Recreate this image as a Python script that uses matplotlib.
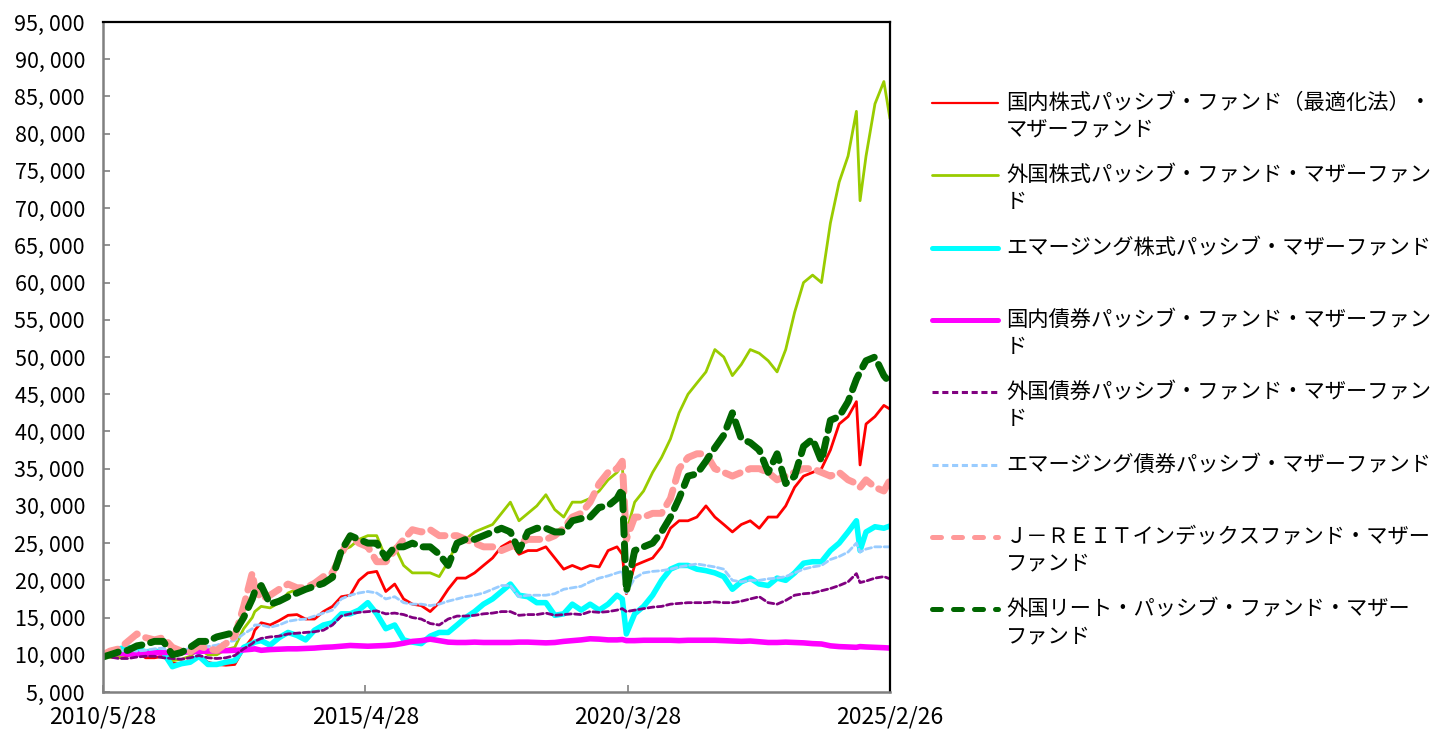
import matplotlib
matplotlib.use("Agg")
import matplotlib.pyplot as plt
from matplotlib.lines import Line2D
import pandas as pd

plt.rcParams['font.family'] = ['Noto Sans CJK JP', 'DejaVu Sans']

# ---------------- data ----------------
dates = [
    "2010-05-28", "2010-07-15", "2010-09-15", "2010-11-15",
    "2011-01-15", "2011-03-15", "2011-05-15", "2011-07-15", "2011-09-15", "2011-11-15",
    "2012-01-15", "2012-03-15", "2012-05-15", "2012-07-15", "2012-09-15", "2012-11-15",
    "2013-01-15", "2013-03-15", "2013-04-01", "2013-05-15", "2013-07-15", "2013-09-15", "2013-11-15",
    "2014-01-15", "2014-03-15", "2014-05-15", "2014-07-15", "2014-09-15", "2014-11-15",
    "2015-01-15", "2015-03-15", "2015-05-15", "2015-07-15", "2015-09-15", "2015-11-15",
    "2016-01-15", "2016-03-15", "2016-05-15", "2016-07-15", "2016-09-15", "2016-11-15",
    "2017-01-15", "2017-03-15", "2017-05-15", "2017-07-15", "2017-09-15", "2017-11-15",
    "2018-01-15", "2018-03-15", "2018-05-15", "2018-07-15", "2018-09-15", "2018-11-15",
    "2019-01-15", "2019-03-15", "2019-05-15", "2019-07-15", "2019-09-15", "2019-11-15",
    "2020-01-15", "2020-02-20", "2020-03-19", "2020-05-15", "2020-07-15", "2020-09-15", "2020-11-15",
    "2021-01-15", "2021-03-15", "2021-05-15", "2021-07-15", "2021-09-15", "2021-11-15",
    "2022-01-15", "2022-03-15", "2022-05-15", "2022-07-15", "2022-09-15", "2022-11-15",
    "2023-01-15", "2023-03-15", "2023-05-15", "2023-07-15", "2023-09-15", "2023-11-15",
    "2024-01-15", "2024-03-15", "2024-05-15", "2024-07-11", "2024-08-05", "2024-09-15", "2024-11-15",
    "2025-01-15", "2025-02-26",
]

dom_equity = [
    10000, 9700, 9600, 9900,
    10500, 9600, 9600, 9800, 8900, 8700,
    9000, 9900, 9000, 8700, 8600, 8700,
    10800, 12300, 13300, 14300, 14000, 14600, 15300,
    15400, 14800, 14800, 15800, 16500, 17800,
    18000, 20000, 21000, 21200, 18500, 19500,
    17500, 16800, 16600, 15800, 17000, 18800,
    20300, 20300, 21000, 22000, 23000, 24500,
    25200, 23500, 24000, 24000, 24500, 23000,
    21500, 22000, 21500, 22000, 21800, 24000,
    24500, 23500, 18200, 22000, 22500, 23000, 24500,
    27000, 28000, 28000, 28500, 30000, 28500,
    27500, 26500, 27500, 28000, 27000, 28500,
    28500, 30000, 32500, 34000, 34500, 35000,
    37500, 41000, 42000, 44000, 35500, 41000, 42000,
    43500, 43000,
]

for_equity = [
    10000, 9700, 9600, 10200,
    10700, 10400, 10600, 10400, 9200, 9400,
    9800, 10800, 10000, 10000, 10700, 11000,
    13500, 15000, 15800, 16500, 16300, 17000, 18300,
    18800, 18800, 19300, 19800, 20500, 24000,
    24500, 25500, 26000, 26000, 23000, 24500,
    22000, 21000, 21000, 21000, 20500, 22500,
    25000, 25500, 26500, 27000, 27500, 29000,
    30500, 28000, 29000, 30000, 31500, 29500,
    28500, 30500, 30500, 31000, 32000, 33500,
    34500, 35500, 26500, 30500, 32000, 34500, 36500,
    39000, 42500, 45000, 46500, 48000, 51000,
    50000, 47500, 49000, 51000, 50500, 49500,
    48000, 51000, 56000, 60000, 61000, 60000,
    68000, 73500, 77000, 83000, 71000, 77000, 84000,
    87000, 82000,
]

em_equity = [
    10000, 10500, 10800, 11000,
    10800, 10400, 10500, 10300, 8400, 8800,
    9000, 9800, 8700, 8700, 9000, 9200,
    11000, 11500, 11700, 11900, 11300, 12300, 13000,
    12600, 12000, 13300, 14000, 14300, 15500,
    15500, 16000, 17000, 15500, 13500, 14000,
    12000, 11700, 11500, 12500, 13000, 13000,
    14000, 15000, 15800, 16800, 17500, 18500,
    19500, 18000, 17800, 17000, 17000, 15300,
    15500, 16800, 16000, 16800, 16000, 16800,
    18000, 17500, 12800, 15500, 16500, 18000, 20000,
    21500, 22000, 22000, 21500, 21300, 21000,
    20500, 18800, 19800, 20300, 19500, 19300,
    20300, 20000, 21000, 22300, 22500, 22500,
    24000, 25000, 26500, 28000, 24000, 26500, 27200,
    27000, 27300,
]

dom_bond = [
    10000, 10100, 10200, 10100,
    10100, 10150, 10250, 10300, 10350, 10350,
    10400, 10450, 10500, 10550, 10550, 10600,
    10650, 10750, 10800, 10600, 10700, 10750, 10800,
    10800, 10850, 10900, 11000, 11050, 11150,
    11250, 11200, 11150, 11200, 11250, 11350,
    11550, 11800, 11900, 12100, 11900, 11700,
    11650, 11650, 11700, 11650, 11650, 11650,
    11650, 11700, 11700, 11650, 11600, 11650,
    11800, 11900, 12000, 12150, 12100, 12000,
    12000, 12050, 11900, 11900, 11950, 11950, 11950,
    11950, 11900, 11950, 11950, 11950, 11950,
    11900, 11850, 11800, 11850, 11750, 11650,
    11650, 11700, 11650, 11600, 11500, 11450,
    11200, 11100, 11050, 11000, 11100, 11050, 11000,
    10950, 10900,
]

for_bond = [
    10000, 9700, 9500, 9500,
    9700, 9800, 9800, 9600, 9500, 9400,
    9600, 9900, 9600, 9500, 9600, 9900,
    10800, 11500, 11800, 12200, 12400, 12500, 12800,
    12900, 13000, 13100, 13300, 14000, 15200,
    15500, 15700, 15800, 15900, 15500, 15600,
    15400, 15000, 14800, 14200, 14000, 14800,
    15200, 15200, 15300, 15500, 15600, 15800,
    15800, 15300, 15400, 15400, 15600, 15300,
    15400, 15500, 15400, 15800, 15700, 15800,
    16000, 16200, 15800, 16000, 16200, 16400, 16500,
    16800, 16900, 17000, 17000, 17000, 17100,
    17000, 17000, 17200, 17500, 17800, 17000,
    16800, 17300, 18000, 18200, 18300, 18600,
    18900, 19300, 19800, 20900, 19700, 19900, 20300,
    20500, 20200,
]

em_bond = [
    10000, 10200, 10500, 10600,
    10500, 10600, 10800, 10900, 10300, 10500,
    10900, 11400, 11100, 11300, 11700, 11900,
    12800, 13500, 14000, 14000, 13700, 14000, 14500,
    14700, 14800, 15200, 15600, 16000, 17500,
    18000, 18300, 18500, 18300, 17500, 17800,
    17000, 16800, 16800, 16600, 16800, 17200,
    17500, 17800, 18000, 18300, 18800, 19300,
    19300, 17800, 18000, 18000, 18000, 18200,
    18800, 19000, 19200, 19800, 20300, 20600,
    21000, 21200, 18300, 20300, 21000, 21200, 21300,
    21500, 21800, 22000, 22200, 22000, 21800,
    21500, 20000, 19800, 20000, 20000, 20200,
    20300, 20500, 21000, 21500, 21800, 22000,
    22800, 23200, 23800, 25000, 23800, 24200, 24500,
    24500, 24500,
]

jreit = [
    10000, 10500, 10800, 11800,
    12800, 12300, 12000, 12300, 11000, 10500,
    10400, 11200, 10800, 10600, 11500, 12500,
    16500, 21000, 19000, 17500, 18000, 18800, 19500,
    19000, 19000, 19600, 20500, 21000, 23500,
    26000, 25000, 24500, 22500, 22500, 24000,
    25500, 26800, 26500, 26800, 26000, 26000,
    26000, 25500, 25000, 24500, 24500, 24000,
    24500, 25000, 25500, 25500, 25500, 26000,
    27000, 28500, 29000, 30500, 33000, 34500,
    35000, 36000, 25500, 28500, 28500, 29000, 29000,
    31000, 35000, 36500, 37000, 37000, 35000,
    34500, 34000, 34500, 35000, 35000, 34500,
    33500, 34000, 34500, 35000, 35000, 34500,
    34000, 34500, 33500, 33000, 32500, 33500, 32500,
    32000, 33500,
]

for_reit = [
    9700, 10000, 10400, 10600,
    11200, 11400, 11800, 11800, 10000, 10300,
    11000, 11800, 11800, 12400, 12700, 13000,
    15000, 17500, 18500, 19300, 16800, 17200, 17800,
    18300, 18800, 19200, 19600, 20400, 24000,
    26000, 25500, 25000, 25000, 23000, 24500,
    24500, 25000, 24500, 24500, 23500, 22000,
    25000, 25500, 25500, 26000, 26500, 27000,
    26500, 24000, 26500, 27000, 27000, 26500,
    26500, 28000, 28300, 28500, 29800, 30000,
    31000, 32300, 18500, 24000, 24500, 25000, 26500,
    28500, 31000, 34000, 34300, 36000, 37800,
    39500, 42500, 39000, 38500, 37500, 34500,
    37000, 33000, 34000, 38000, 39000, 36000,
    41500, 42000, 44000, 47000, 48000, 49500, 50000,
    47500, 46500,
]

labels = [
    "国内株式パッシブ・ファンド（最適化法）・\nマザーファンド",
    "外国株式パッシブ・ファンド・マザーファン\nド",
    "エマージング株式パッシブ・マザーファンド",
    "国内債券パッシブ・ファンド・マザーファン\nド",
    "外国債券パッシブ・ファンド・マザーファン\nド",
    "エマージング債券パッシブ・マザーファンド",
    "Ｊ－ＲＥＩＴインデックスファンド・マザー\nファンド",
    "外国リート・パッシブ・ファンド・マザー\nファンド",
]

xtick_dates = ["2010-05-28", "2015-04-28", "2020-03-28", "2025-02-26"]
xtick_labels = ["2010/5/28", "2015/4/28", "2020/3/28", "2025/2/26"]
yticks = list(range(5000, 95001, 5000))

# ---------------- styles ----------------
series = [dom_equity, for_equity, em_equity, dom_bond, for_bond, em_bond, jreit, for_reit]
colors = ["#FF0000", "#99CC00", "#00FFFF", "#FF00FF", "#800080", "#99CCFF", "#FF9999", "#006600"]
plot_lw = [2.0, 2.0, 4.0, 4.0, 2.0, 2.0, 5.0, 5.0]
plot_dash = [None, None, None, None, (2.2, 1.2), (2.2, 1.2), (2.3, 1.3), (2.3, 1.3)]
leg_lw = [1.6, 2.0, 3.6, 3.6, 2.2, 2.2, 3.6, 3.6]
leg_dash = [None, None, None, None, (2.0, 1.2), (2.0, 1.2), (1.8, 2.4), (1.8, 2.4)]

W, H = 1436, 729
fig = plt.figure(figsize=(W / 100, H / 100), dpi=100)
ax = fig.add_axes([103 / W, 1 - 692 / H, (890 - 103) / W, (692 - 22) / H])

x = pd.to_datetime(dates)
for vals, c, lw, dsh in zip(series, colors, plot_lw, plot_dash):
    kw = dict(color=c, lw=lw, solid_joinstyle='round', solid_capstyle='round')
    if dsh is not None:
        kw.update(linestyle=(0, dsh), dash_capstyle='round', dash_joinstyle='round')
    ax.plot(x, vals, **kw)

ax.set_xlim(pd.Timestamp(xtick_dates[0]), pd.Timestamp(xtick_dates[-1]))
ax.set_ylim(yticks[0], yticks[-1])
ax.set_yticks(yticks)
ax.set_yticklabels([f"{v:,}".replace(",", ", ") for v in yticks])
ax.set_xticks(pd.to_datetime(xtick_dates))
ax.set_xticklabels(xtick_labels)

ax.tick_params(axis='both', direction='in', length=5, width=1.2, color='#808080',
               labelcolor='black')
ax.tick_params(axis='y', pad=13, labelsize=15.5)
ax.tick_params(axis='x', pad=10, labelsize=16.5)

for s in ['left', 'bottom']:
    ax.spines[s].set_color('#808080')
    ax.spines[s].set_linewidth(1.8)
for s in ['top', 'right']:
    ax.spines[s].set_color('black')
    ax.spines[s].set_linewidth(1.6)

# ---------------- legend (manual, right side) ----------------
y0, dy, line_gap = 103, 72.3, 27
for i, (lab, c) in enumerate(zip(labels, colors)):
    yp = y0 + i * dy
    kw = dict(color=c, lw=leg_lw[i], solid_capstyle='round')
    if leg_dash[i] is not None:
        kw.update(linestyle=(0, leg_dash[i]),
                  dash_capstyle='round' if i >= 6 else 'butt')
    fig.add_artist(Line2D([932 / W, 998 / W], [1 - yp / H, 1 - yp / H],
                          transform=fig.transFigure, **kw))
    for j, line in enumerate(lab.split("\n")):
        fig.text(1006 / W, 1 - (yp + j * line_gap) / H, line, fontsize=15.3,
                 va='center', ha='left', color='black')

fig.savefig("out.png", dpi=100)
